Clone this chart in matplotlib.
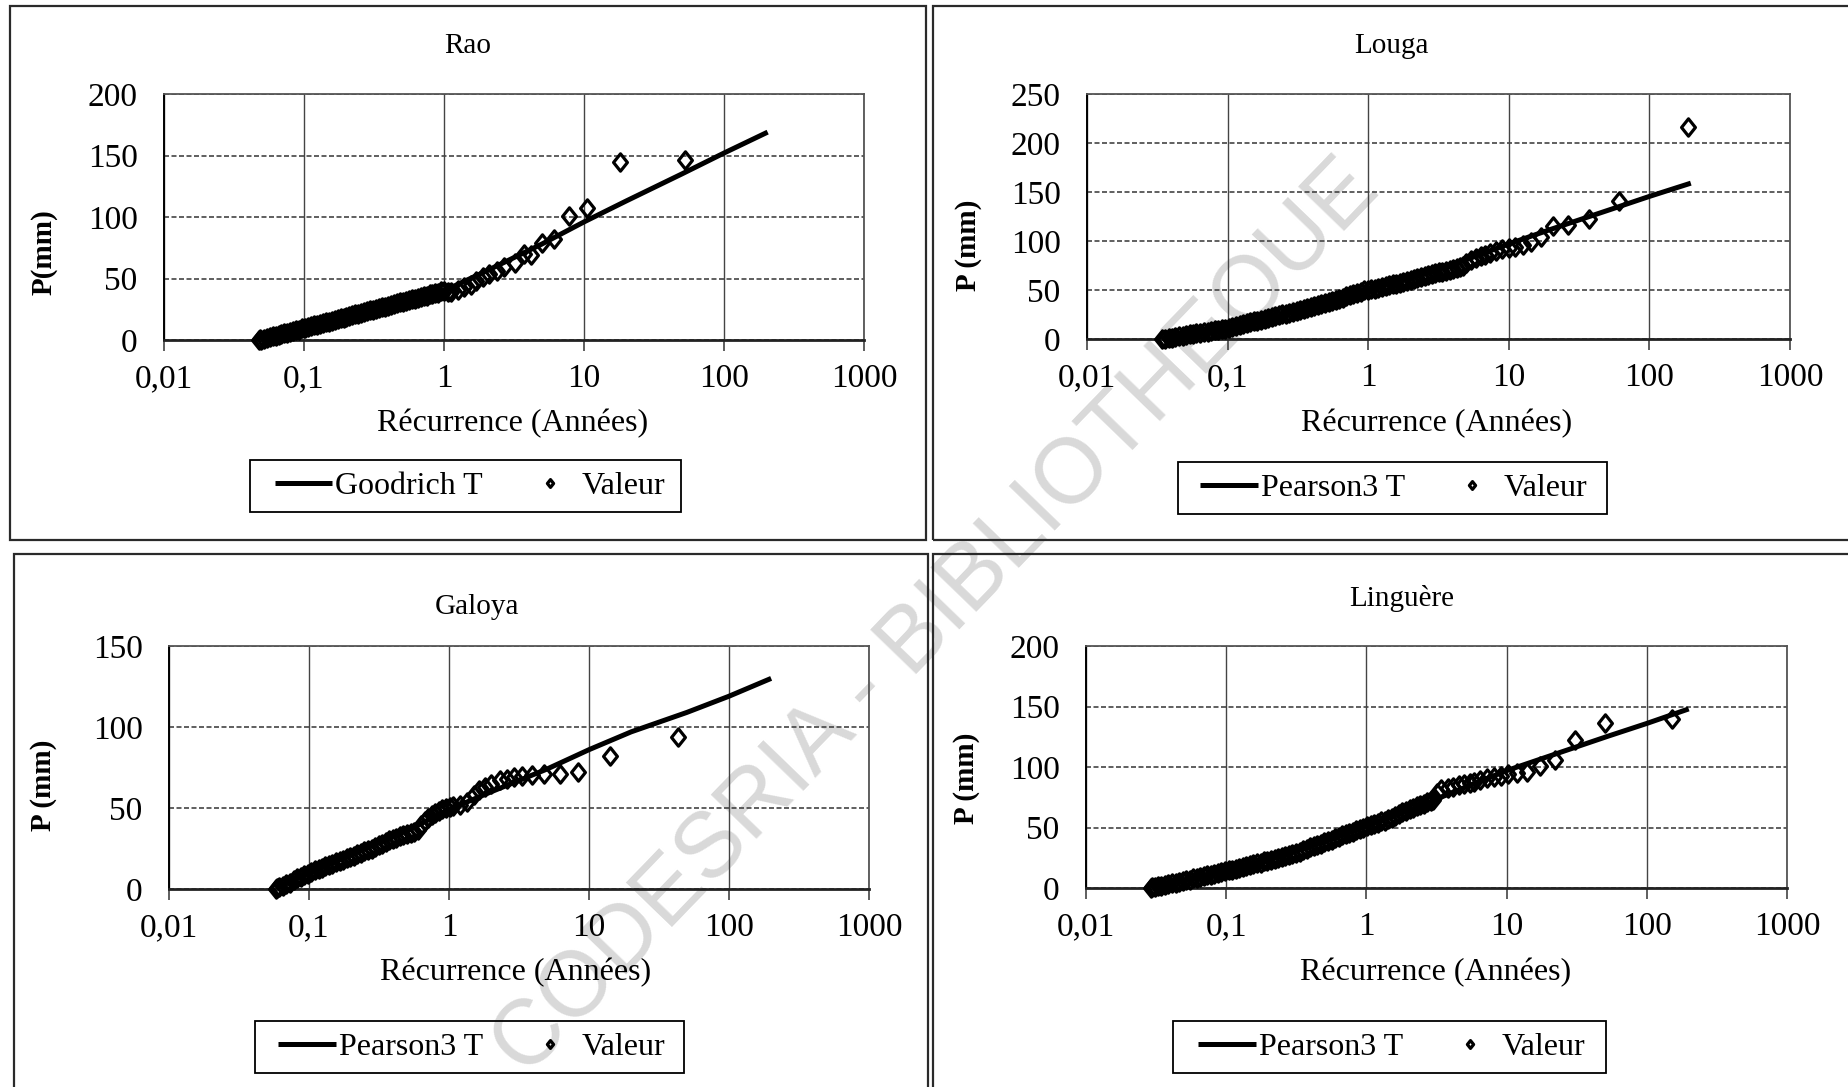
import matplotlib
matplotlib.use("Agg")
import matplotlib.pyplot as plt
from matplotlib.patches import Rectangle
from matplotlib.path import Path
from matplotlib.ticker import NullLocator, FixedLocator

plt.rcParams['font.family'] = ['Liberation Serif', 'DejaVu Serif']

# ---- Rao (Goodrich) ----
rao_fit_T = [0.048, 0.06, 0.08, 0.1, 0.2, 0.5, 1, 2, 5, 10, 20, 50, 100, 205]
rao_fit_P = [0, 3, 7, 9.5, 18, 30, 40, 56, 78, 96, 113, 135, 152, 169]
rao_obs_T = [0.048, 0.0485, 0.049, 0.0515, 0.054, 0.057, 0.060, 0.063, 0.066, 0.069,
             0.072, 0.076, 0.080, 0.084, 0.088, 0.092, 0.097, 0.102, 0.107, 0.112,
             0.118, 0.124, 0.130, 0.136, 0.143, 0.150, 0.158, 0.166, 0.174, 0.183,
             0.192, 0.201, 0.211, 0.222, 0.233, 0.245, 0.257, 0.270, 0.283, 0.297,
             0.312, 0.328, 0.344, 0.361, 0.379, 0.398, 0.418, 0.439, 0.461, 0.484,
             0.508, 0.533, 0.560, 0.588, 0.617, 0.648, 0.680, 0.714, 0.750, 0.788,
             0.827, 0.868, 0.911, 0.957, 1.005, 1.06, 1.12, 1.25, 1.4, 1.55,
             1.7, 1.9, 2.1, 2.4, 2.7, 3.2, 3.7, 4.2, 5.0, 6.1,
             7.8, 10.5, 18, 53]
rao_obs_P = [0, 0.5, 0, 1, 1.5, 2.5, 3, 3.5, 4, 5,
             5.5, 6, 6.5, 7.5, 8, 8.5, 9.5, 10, 10.5, 11,
             12, 12.5, 13, 13.5, 14.5, 15, 15.5, 16.5, 17, 17.5,
             18, 19, 19.5, 20, 21, 21.5, 22, 22.5, 23.5, 24,
             24.5, 25.5, 26, 26.5, 27, 28, 28.5, 29, 30, 30.5,
             31, 31.5, 32.5, 33, 33.5, 34, 35, 35.5, 36, 37,
             37.5, 38, 38.5, 39.5, 40, 39, 39, 41, 43, 45,
             48, 51, 54, 56, 59, 63, 70, 69, 79, 82,
             101, 107, 145, 146]

# ---- Louga (Pearson3) ----
louga_fit_T = [0.034, 0.05, 0.07, 0.1, 0.2, 0.5, 1, 2, 5, 10, 20, 50, 100, 197]
louga_fit_P = [0, 4, 7.5, 11, 21, 36, 50, 62, 81, 97, 112, 131, 145.5, 159]
louga_obs_T = [0.034, 0.036, 0.038, 0.040, 0.0425, 0.045, 0.048, 0.051, 0.054, 0.057,
               0.060, 0.064, 0.068, 0.072, 0.076, 0.081, 0.086, 0.091, 0.096, 0.102,
               0.108, 0.115, 0.122, 0.129, 0.137, 0.145, 0.154, 0.163, 0.173, 0.183,
               0.194, 0.206, 0.218, 0.231, 0.245, 0.26, 0.275, 0.292, 0.31, 0.328,
               0.348, 0.369, 0.391, 0.414, 0.439, 0.465, 0.493, 0.523, 0.554, 0.587,
               0.623, 0.660, 0.700, 0.742, 0.786, 0.833, 0.883, 0.936, 0.992, 1.05,
               1.11, 1.18, 1.25, 1.33, 1.41, 1.49, 1.58, 1.68, 1.78, 1.88,
               2.0, 2.12, 2.24, 2.38, 2.52, 2.67, 2.83, 3.0, 3.18, 3.37,
               3.57, 3.79, 4.01, 4.25, 4.5, 4.7, 4.95, 5.35, 5.8, 6.3,
               6.8, 7.4, 8.1, 9.0, 10.0, 11.1, 12.6, 14.4, 17, 20.5,
               26.5, 37, 61, 188]
louga_obs_P = [0, 0.5, 1, 1.5, 2.5, 3, 3.5, 4, 5, 5.5,
               6, 6.5, 7, 7.5, 8, 9, 9.5, 10, 10.5, 11.5,
               12, 13, 14, 15, 16, 17, 18, 18.5, 19.5, 20.5,
               21.5, 22.5, 23.5, 24, 25, 26, 27, 27.5, 28.5, 29.5,
               30.5, 31.5, 32.5, 33.5, 34.5, 35.5, 37, 38, 39, 40,
               41, 42, 43.5, 44.5, 45.5, 46.5, 48, 49.5, 50.5, 51,
               51.5, 52.5, 53, 54, 55, 56, 56.5, 57.5, 58.5, 59,
               60, 61, 62, 63, 64, 65, 66, 67, 68, 68.5,
               69.5, 70.5, 71.5, 72, 73, 74, 78, 81, 83, 84.5,
               86, 88, 90, 91.5, 93, 94, 96, 99, 104, 115,
               116, 122, 141, 216]

# ---- Galoya (Pearson3) ----
galoya_fit_T = [0.058, 0.08, 0.1, 0.2, 0.5, 1, 2, 5, 10, 20, 50, 100, 200]
galoya_fit_P = [0, 6, 9.5, 21, 36, 49, 60, 74, 86, 97, 109, 119, 130]
galoya_obs_T = [0.058, 0.059, 0.0615, 0.065, 0.069, 0.073, 0.078, 0.082, 0.087, 0.092,
                0.098, 0.104, 0.110, 0.117, 0.124, 0.131, 0.139, 0.147, 0.156, 0.166,
                0.176, 0.186, 0.197, 0.209, 0.222, 0.235, 0.249, 0.264, 0.280, 0.297,
                0.315, 0.334, 0.354, 0.375, 0.397, 0.421, 0.446, 0.473, 0.502, 0.532,
                0.564, 0.597, 0.633, 0.671, 0.712, 0.754, 0.80, 0.848, 0.898, 0.952,
                1.01, 1.07, 1.2, 1.35, 1.5, 1.65, 1.8, 2.0, 2.3, 2.6,
                2.9, 3.3, 3.9, 4.8, 6.2, 8.4, 14.1, 43]
galoya_obs_P = [0, 0.5, 1, 2, 3, 4, 5.5, 6.5, 7.5, 8.5,
                9.5, 10.5, 11.5, 12.5, 13, 14, 15, 15.5, 16.5, 17.5,
                18, 19, 20, 20.5, 21.5, 22.5, 23.5, 24, 25, 26,
                27, 28, 29, 30, 31, 31.5, 32.5, 33.5, 34, 34.5,
                35, 36.5, 39.5, 42, 44, 45.5, 47, 48, 49.5, 50,
                50.5, 51, 52, 54, 58, 61, 63, 65, 67, 68,
                69, 70, 70.5, 71, 71, 72, 82, 94]

# ---- Linguere (Pearson3) ----
ling_fit_T = [0.029, 0.04, 0.06, 0.1, 0.2, 0.5, 1, 2, 5, 10, 22, 53, 100, 199]
ling_fit_P = [0, 4, 8, 13.5, 23, 38, 51, 64, 83, 97, 110.5, 125.5, 136, 148]
ling_obs_T = [0.029, 0.0295, 0.031, 0.0325, 0.0345, 0.0365, 0.0387, 0.041, 0.0435, 0.046,
              0.049, 0.052, 0.055, 0.058, 0.0615, 0.065, 0.069, 0.073, 0.078, 0.082,
              0.087, 0.092, 0.098, 0.104, 0.110, 0.117, 0.124, 0.131, 0.139, 0.147,
              0.156, 0.166, 0.176, 0.186, 0.197, 0.209, 0.222, 0.235, 0.249, 0.264,
              0.280, 0.297, 0.315, 0.334, 0.354, 0.375, 0.397, 0.421, 0.446, 0.473,
              0.502, 0.532, 0.564, 0.597, 0.633, 0.671, 0.712, 0.754, 0.80, 0.848,
              0.898, 0.952, 1.01, 1.07, 1.13, 1.2, 1.27, 1.35, 1.43, 1.52,
              1.61, 1.7, 1.8, 1.91, 2.03, 2.15, 2.28, 2.41, 2.56, 2.71,
              2.87, 3.0, 3.18, 3.4, 3.8, 4.16, 4.6, 5.0, 5.5, 5.9,
              6.5, 7.2, 8.1, 9.1, 10.3, 11.8, 14, 17.2, 22, 30.8,
              50.6, 151]
ling_obs_P = [0, 0.5, 1, 1.5, 2, 2.5, 3.5, 4, 4.5, 5,
              6, 6.5, 7, 8, 8.5, 9, 10, 10.5, 11, 11.5,
              12.5, 13, 14, 14.5, 15, 16, 16.5, 17.5, 18, 19,
              19.5, 20.5, 21, 22, 22.5, 23.5, 24, 25, 25.5, 26.5,
              27, 28, 29, 30, 31, 32.5, 33.5, 34.5, 35.5, 36.5,
              38, 39, 40, 41, 42.5, 43.5, 44.5, 45.5, 46.5, 48,
              49, 50, 51, 52, 53, 54, 55, 55.5, 57, 58,
              59.5, 61, 62.5, 63.5, 65, 66.5, 67.5, 68.5, 69.5, 71,
              72, 73, 78.7, 81.5, 82.9, 83.7, 84.8, 85.6, 87, 88,
              89, 90.6, 91.4, 92.5, 94, 95, 96, 101, 106, 122,
              136, 139.5]

x_ticks = [0.01, 0.1, 1, 10, 100, 1000]
x_labels = ['0,01', '0,1', '1', '10', '100', '1000']

# slightly tall open diamond, as in the scanned Excel charts
diamond = Path([(0, 1), (0.8, 0), (0, -1), (-0.8, 0), (0, 1)], closed=True)

W, H = 1849, 1087
fig = plt.figure(figsize=(W / 100, H / 100), dpi=100)


def fx(px):
    return px / W


def fy(py):
    return 1 - py / H


def frame(x0, y0, x1, y1, color, lw):
    fig.add_artist(Rectangle((fx(x0), fy(y1)), (x1 - x0) / W, (y1 - y0) / H,
                             transform=fig.transFigure, fill=False,
                             ec=color, lw=lw))


# panel frames
for box in [(10, 6, 926, 540), (933, 6, 1860, 540),
            (14, 554, 928, 1100), (933, 554, 1860, 1100)]:
    frame(*box, '#2a2a2a', 1.6)

# watermark
fig.text(fx(937), fy(619), 'CODESRIA - BIBLIOTHEQUE', rotation=46,
         rotation_mode='anchor', ha='center', va='center', fontsize=66,
         color='#d9d9d9', family=['Liberation Sans', 'DejaVu Sans'], zorder=-1)

panels = [
    dict(title='Rao', fit_T=rao_fit_T, fit_P=rao_fit_P, obs_T=rao_obs_T, obs_P=rao_obs_P,
         ymax=200, ylabel='P(mm)', law='Goodrich T',
         box=(164, 94, 864, 340), title_xy=(468, 46), xlab_xy=(513, 424),
         ylab_xy=(44, 252), leg_xy=(470, 486), leg_box=(250, 460, 681, 512)),
    dict(title='Louga', fit_T=louga_fit_T, fit_P=louga_fit_P, obs_T=louga_obs_T, obs_P=louga_obs_P,
         ymax=250, ylabel='P (mm)', law='Pearson3 T',
         box=(1087, 94, 1790, 339), title_xy=(1391, 46), xlab_xy=(1437, 424),
         ylab_xy=(969, 245), leg_xy=(1394, 488), leg_box=(1178, 462, 1607, 514)),
    dict(title='Galoya', fit_T=galoya_fit_T, fit_P=galoya_fit_P, obs_T=galoya_obs_T, obs_P=galoya_obs_P,
         ymax=150, ylabel='P (mm)', law='Pearson3 T',
         box=(169, 646, 869, 889), title_xy=(477, 607), xlab_xy=(516, 973),
         ylab_xy=(44, 785), leg_xy=(472, 1047), leg_box=(255, 1021, 684, 1073)),
    dict(title='Linguère', fit_T=ling_fit_T, fit_P=ling_fit_P, obs_T=ling_obs_T, obs_P=ling_obs_P,
         ymax=200, ylabel='P (mm)', law='Pearson3 T',
         box=(1086, 646, 1787, 888), title_xy=(1402, 599), xlab_xy=(1436, 973),
         ylab_xy=(967, 778), leg_xy=(1392, 1047), leg_box=(1173, 1021, 1606, 1073)),
]

for p in panels:
    l, t, r, b = p['box']
    ax = fig.add_axes([fx(l), fy(b), (r - l) / W, (b - t) / H])
    ax.set_facecolor('none')
    ax.set_xscale('log')
    ax.set_xlim(0.01, 1000)
    ax.set_ylim(0, p['ymax'])
    ax.xaxis.set_major_locator(FixedLocator(x_ticks))
    ax.xaxis.set_minor_locator(NullLocator())
    ax.set_xticklabels(x_labels)
    ax.set_yticks(range(0, p['ymax'] + 1, 50))
    ax.tick_params(axis='x', direction='out', length=8, width=1.1, color='#333',
                   labelsize=24, pad=9)
    ax.tick_params(axis='y', length=0, labelsize=24, pad=19)
    ax.grid(axis='x', color='#444', lw=1.0, ls='-')
    ax.grid(axis='y', color='#444', lw=1.2, ls=(0, (3, 1.5)))
    ax.set_axisbelow(True)
    ax.spines['left'].set_color('black')
    ax.spines['left'].set_linewidth(1.4)
    ax.spines['bottom'].set_color('#222')
    ax.spines['bottom'].set_linewidth(2)
    for s in ('top', 'right'):
        ax.spines[s].set_color('#555')
        ax.spines[s].set_linewidth(1.3)

    line, = ax.plot(p['fit_T'], p['fit_P'], color='black', lw=3.6,
                    solid_capstyle='butt', zorder=3, label=p['law'])
    pts, = ax.plot(p['obs_T'], p['obs_P'], ls='none', marker=diamond, ms=12.5,
                   mfc='none', mec='black', mew=2.3, zorder=4, label='Valeur',
                   clip_on=False)

    fig.text(fx(p['title_xy'][0]), fy(p['title_xy'][1]), p['title'],
             ha='center', va='center', fontsize=21)
    fig.text(fx(p['xlab_xy'][0]), fy(p['xlab_xy'][1]), 'Récurrence (Années)',
             ha='center', va='center', fontsize=23)
    fig.text(fx(p['ylab_xy'][0]), fy(p['ylab_xy'][1]), p['ylabel'],
             ha='center', va='center', fontsize=21, fontweight='bold', rotation=90)

    ax.legend(handles=[line, pts], loc='center',
              bbox_to_anchor=(fx(p['leg_xy'][0]), fy(p['leg_xy'][1])),
              bbox_transform=fig.transFigure, ncol=2, fontsize=23,
              frameon=False, borderpad=0.2, handlelength=1.8,
              handletextpad=0.1, columnspacing=1.2, markerscale=0.45)
    frame(*p['leg_box'], 'black', 1.3)

fig.savefig('out.png', dpi=100)
